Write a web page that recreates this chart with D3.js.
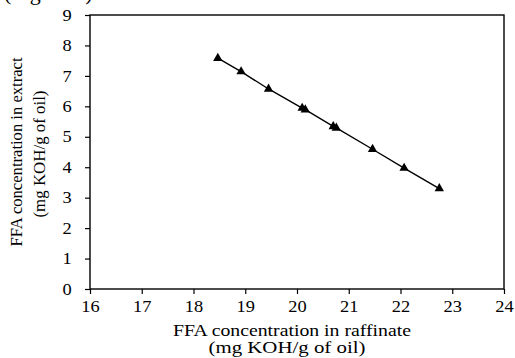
<!DOCTYPE html>
<html>
<head>
<meta charset="utf-8">
<script src="https://cdn.jsdelivr.net/npm/d3@7"></script>
<style>
  html, body { margin: 0; padding: 0; background: #fff; }
  svg text { font-family: "Liberation Serif", "Times New Roman", serif; fill: #000; }
</style>
</head>
<body>
<svg id="chart" width="515" height="358"></svg>
<script>
// data
const raffinate = [18.47, 18.92, 19.45, 20.10, 20.16, 20.70, 20.76, 21.46, 22.07, 22.75];
const extract   = [7.58, 7.14, 6.57, 5.94, 5.89, 5.34, 5.29, 4.59, 3.97, 3.30];
const xTicks = [16, 17, 18, 19, 20, 21, 22, 23, 24];
const yTicks = [0, 1, 2, 3, 4, 5, 6, 7, 8, 9];

const margin = { top: 15, left: 90 };
const width = 414;
const height = 274;

const svg = d3.select("#chart");

// cut-off caption line from the page above the figure (only its bottom shows)
svg.append("text")
  .attr("x", 4)
  .attr("y", 0)
  .attr("font-size", "22px")
  .text("(Figure 6).");

const g = svg.append("g")
  .attr("transform", "translate(" + margin.left + "," + margin.top + ")");

const x = d3.scaleLinear().domain([16, 24]).range([0, width]);
const y = d3.scaleLinear().domain([0, 9]).range([height, 0]);

// frame
g.append("rect")
  .attr("x", 0).attr("y", 0)
  .attr("width", width).attr("height", height)
  .attr("fill", "none")
  .attr("stroke", "#000")
  .attr("stroke-width", 1.4);

// x axis
g.append("g")
  .attr("transform", "translate(0," + height + ")")
  .call(d3.axisBottom(x).tickValues(xTicks).tickSize(5).tickPadding(7).tickFormat(d3.format("d")))
  .call(a => a.select(".domain").remove())
  .call(a => a.selectAll("line").attr("stroke", "#000").attr("stroke-width", 1.2))
  .call(a => a.selectAll("text")
    .attr("font-size", "16px")
    .attr("font-family", "Liberation Serif")
    .attr("transform", "scale(1.15,1)"));

// y axis
g.append("g")
  .call(d3.axisLeft(y).tickValues(yTicks).tickSize(5).tickPadding(11).tickFormat(d3.format("d")))
  .call(a => a.select(".domain").remove())
  .call(a => a.selectAll("line").attr("stroke", "#000").attr("stroke-width", 1.2))
  .call(a => a.selectAll("text")
    .attr("font-size", "16px")
    .attr("font-family", "Liberation Serif")
    .attr("transform", "scale(1.15,1)"));

// series
const pts = raffinate.map((r, i) => [r, extract[i]]);

g.append("path")
  .datum(pts)
  .attr("fill", "none")
  .attr("stroke", "#000")
  .attr("stroke-width", 1.4)
  .attr("d", d3.line().x(d => x(d[0])).y(d => y(d[1])));

g.selectAll(".pt")
  .data(pts)
  .enter()
  .append("path")
  .attr("class", "pt")
  .attr("transform", d => "translate(" + x(d[0]) + "," + y(d[1]) + ")")
  .attr("d", d3.symbol().type(d3.symbolTriangle).size(38))
  .attr("fill", "#000");

// axis titles
svg.append("text")
  .attr("x", 292).attr("y", 336)
  .attr("text-anchor", "middle")
  .attr("font-size", "16px")
  .attr("textLength", 238)
  .attr("lengthAdjust", "spacingAndGlyphs")
  .text("FFA concentration in raffinate");

svg.append("text")
  .attr("x", 287).attr("y", 353)
  .attr("text-anchor", "middle")
  .attr("font-size", "16px")
  .attr("textLength", 157)
  .attr("lengthAdjust", "spacingAndGlyphs")
  .text("(mg KOH/g of oil)");

svg.append("text")
  .attr("transform", "translate(22,152) rotate(-90)")
  .attr("text-anchor", "middle")
  .attr("font-size", "17px")
  .attr("textLength", 189)
  .attr("lengthAdjust", "spacingAndGlyphs")
  .text("FFA concentration in extract");

svg.append("text")
  .attr("transform", "translate(45,154) rotate(-90)")
  .attr("text-anchor", "middle")
  .attr("font-size", "17px")
  .attr("textLength", 127)
  .attr("lengthAdjust", "spacingAndGlyphs")
  .text("(mg KOH/g of oil)");
</script>
</body>
</html>
